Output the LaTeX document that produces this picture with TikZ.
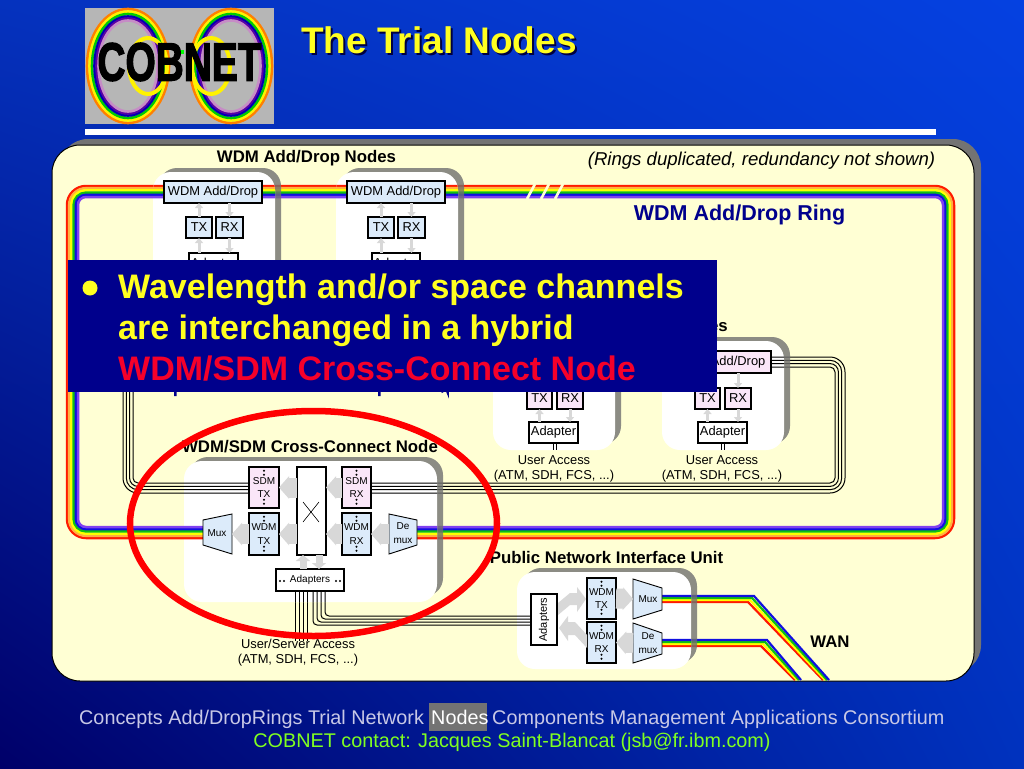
\documentclass[tikz,border=0pt]{standalone}
\usepackage{fontspec}
\setmainfont{Liberation Sans}
\newfontfamily\logofont[BoldFeatures={FakeBold=2.5}]{Liberation Sans}
\usetikzlibrary{arrows.meta,shadings}
\definecolor{panelc}{HTML}{FFFFD4}
\definecolor{bluebox}{HTML}{DCEBFA}
\definecolor{pinkbox}{HTML}{FAE6F8}
\definecolor{arrowc}{HTML}{D8D8D8}
\definecolor{overlayc}{HTML}{00008C}
\definecolor{navy}{HTML}{00008C}
\definecolor{yel}{HTML}{FFFF20}
\definecolor{redc}{HTML}{F5002A}
\definecolor{rred}{HTML}{FF1A00}
\definecolor{rora}{HTML}{FFB040}
\definecolor{ryel}{HTML}{FFFF00}
\definecolor{rgre}{HTML}{10C010}
\definecolor{rblu}{HTML}{1010E0}
\definecolor{rvio}{HTML}{8040F0}
\definecolor{footc}{HTML}{C8C8E6}
\definecolor{greenc}{HTML}{80FF20}
\definecolor{shadowc}{HTML}{707070}
\newcommand\fsz[2]{\fontsize{#1}{#2}\selectfont}
\newcommand\bx[7]{%
  \pgfmathsetlengthmacro\myw{(#4)-(#2)}%
  \pgfmathsetlengthmacro\myh{(#5)-(#3)}%
  \node[#6,minimum width=\myw,minimum height=\myh] (#1) at ({((#2)+(#4))/2},{((#3)+(#5))/2}) {#7};}
\newcommand\twodots[2]{\fill (#1,#2-2.2) circle (1.1) (#1,#2+1.8) circle (1.1);}
\newcommand\hdots[2]{\fill (#1-2,#2) circle (1.1) (#1+2,#2) circle (1.1);}
\newcommand\theWires{%
  \foreach \c/\i in {rred/1,rora/3.2,ryel/5.4,rgre/7.6,rblu/9.8,rvio/12}{%
    \pgfmathsetmacro\myr{20-\i}%
    \draw[color=\c,line width=2.5,rounded corners=\myr pt]
      (203,{539-\i}) -- ({66+\i},{539-\i}) -- ({66+\i},{185+\i}) -- ({955-\i},{185+\i}) -- ({955-\i},{539-\i}) -- (417,{539-\i});}
  \foreach \d in {0,3.3,6.6,10}{%
    \pgfmathsetmacro\myr{15-\d}%
    \draw[fibre,rounded corners=\myr pt]
      (771,{357+\d}) -- ({845-\d},{357+\d}) -- ({845-\d},{493-\d}) -- (371,{493-\d});
    \draw[fibre,rounded corners=\myr pt]
      (249,{493-\d}) -- ({123+\d},{493-\d}) -- ({123+\d},{345+\d}) -- (505,{345+\d});}
  \foreach \x in {553,556,721,724}{\draw[fibre] (\x,443) -- (\x,450);}
  \foreach \x in {295,299,303,307}{\draw[fibre] (\x,591) -- (\x,641);}
  \foreach \x/\y in {313/625,317/622,321/619,325/616}{\draw[fibre,rounded corners=4pt] (\x,591) -- (\x,\y) -- (531,\y);}
  \foreach \c/\y/\a/\b in {rred/602/748/823,ryel/600/750/825,rgre/598/752/827,rblu/596/754/829}{%
    \draw[color=\c,line width=2.2] (662,\y) -- (\a,\y) -- (\b,680);}
  \foreach \c/\y/\a/\b in {rred/646/761/795,ryel/644/763/797,rgre/642/765/799,rblu/640/767/801}{%
    \draw[color=\c,line width=2.2] (662,\y) -- (\a,\y) -- (\b,680);}
}
\newcommand\whitebox[4]{%
  \fill[fill=shadowc,opacity=.8,rounded corners=18pt] (#1+6,#2-4) rectangle (#3+6,#4-6);
  \fill[white,rounded corners=18pt] (#1,#2) rectangle (#3,#4);}
\tikzset{
  x=1pt,y=-1pt,
  fibre/.style={black,line width=1pt},
  boxb/.style={draw=black,line width=1.6pt,fill=bluebox,inner sep=0pt,outer sep=0pt,align=center,font=\fsz{12.9}{14}},
  boxp/.style={boxb,fill=pinkbox},
  boxw/.style={boxb,fill=white},
  smallb/.style={boxb,font=\fsz{10}{13.5}},
  smallp/.style={boxp,font=\fsz{10}{13.5}},
  tiny arrow/.style={draw=arrowc,line width=3pt,-{Triangle[length=5pt,width=8pt]}},
  block arrow/.style={draw=arrowc,line width=20pt,-{Triangle[length=10pt,width=22pt]}},
  mid arrow/.style={draw=arrowc,line width=7pt,-{Triangle[length=6pt,width=14pt]}},
  head/.style={font=\bfseries\fsz{16.8}{18},inner sep=0pt,text=black},
  plain label/.style={font=\fsz{12.9}{15},inner sep=0pt,align=center,text=black},
  trap/.style={draw=black,line width=.9pt,fill=bluebox},
  traplabel/.style={font=\fsz{10}{13.5},inner sep=0pt,align=center},
  over/.style={font=\bfseries\fsz{34}{41},inner sep=0pt,anchor=base west},
  foot/.style={font=\fsz{19.8}{22},inner sep=0pt,anchor=base west,text=footc},
}
\begin{document}
\begin{tikzpicture}
\useasboundingbox (0,0) rectangle (1024,768);
\shade[lower left={rgb,255:red,0;green,0;blue,105},upper left={rgb,255:red,5;green,50;blue,190},
       upper right={rgb,255:red,5;green,65;blue,225},lower right={rgb,255:red,0;green,50;blue,190}]
  (0,0) rectangle (1024,768);
% logo
\fill[gray!50!white!95!black] (85,8) rectangle (274,124);
\begin{scope}
\clip (85,8) rectangle (274,124);
\foreach \cx in {128,231}{
  \foreach \c/\i in {orange/1,yellow/3.5,green!80!black/6,blue!70!black/8.5,violet!70!blue/10.5,violet!45!white/12.5}{
    \draw[color=\c,line width=2.6] (\cx,66) ellipse ({42-\i} and {58-\i});}}
\draw[yellow,line width=4] (148,66) ellipse (19 and 28);
\draw[yellow,line width=4] (211,66) ellipse (19 and 28);
\draw[green,line width=4] (176,52) -- (184,52);
\end{scope}
\node[inner sep=0pt,font=\logofont\bfseries\fsz{54}{54},text=black] (logotext) at (179.5,62) {\scalebox{.72}[1]{COBNET}};
% title
\node[inner sep=0pt,anchor=base west,font=\bfseries\fsz{37}{37},text=black!75!blue] (titleshadow) at (303,56) {The Trial Nodes};
\node[inner sep=0pt,anchor=base west,font=\bfseries\fsz{37}{37},text=yel] (title) at (301,54) {The Trial Nodes};
\fill[white] (85,129) rectangle (936,135);
% panel
\fill[gray!90!black,rounded corners=28pt] (60,139) rectangle (981,673);
\draw[black,line width=1pt,fill=panelc,rounded corners=28pt] (52,145) rectangle (974,681);
\theWires
\whitebox{153}{172}{275}{285}
\whitebox{336}{172}{458}{285}
\whitebox{493}{341}{615}{450}
\whitebox{662}{341}{784}{450}
\whitebox{184}{461}{437}{602}
\whitebox{517}{572}{691}{669}
\begin{scope}
\clip[rounded corners=18pt] (153,172) rectangle (275,285) (336,172) rectangle (458,285)
  (493,341) rectangle (615,450) (662,341) rectangle (784,450)
  (184,461) rectangle (437,602) (517,572) rectangle (691,669);
\theWires
\end{scope}
\foreach \xa/\xb in {527/535,541/549,555/563}{\draw[panelc,line width=2.6] (\xa,199) -- (\xb,184);}
% add/drop nodes
\bx{wa1}{164}{181}{262}{203}{boxb}{WDM Add/Drop}
\bx{tx1}{186}{217}{212}{238}{boxb}{TX}
\bx{rx1}{216}{217}{243}{238}{boxb}{RX}
\bx{ad1}{189}{253}{238}{275}{boxw}{Adapter}
\bx{wa2}{347}{181}{445}{203}{boxb}{WDM Add/Drop}
\bx{tx2}{368}{217}{394}{238}{boxb}{TX}
\bx{rx2}{398}{217}{425}{238}{boxb}{RX}
\bx{ad2}{372}{253}{420}{275}{boxw}{Adapter}
\bx{sa3}{505}{351}{603}{373}{boxp}{}
\bx{tx3}{527}{388}{552}{409}{boxp}{TX}
\bx{rx3}{557}{388}{583}{409}{boxp}{RX}
\bx{ad3}{529}{422}{578}{443}{boxw}{Adapter}
\bx{sa4}{673}{351}{771}{373}{boxp}{SDM Add/Drop}
\bx{tx4}{695}{388}{720}{409}{boxp}{TX}
\bx{rx4}{725}{388}{751}{409}{boxp}{RX}
\bx{ad4}{698}{422}{747}{443}{boxw}{Adapter}
\foreach \n in {1,2}{
  \draw[tiny arrow] (tx\n.north) -- (tx\n.north |- wa\n.south);
  \draw[tiny arrow] (rx\n.north |- wa\n.south) -- (rx\n.north);
  \draw[tiny arrow] (ad\n.north -| tx\n.south) -- (tx\n.south);
  \draw[tiny arrow] (rx\n.south) -- (rx\n.south |- ad\n.north);}
\foreach \n/\m in {3/sa3,4/sa4}{
  \draw[tiny arrow] (tx\n.north) -- (tx\n.north |- \m.south);
  \draw[tiny arrow] (rx\n.north |- \m.south) -- (rx\n.north);
  \draw[tiny arrow] (ad\n.north -| tx\n.south) -- (tx\n.south);
  \draw[tiny arrow] (rx\n.south) -- (rx\n.south |- ad\n.north);}
\node[plain label] (ua3) at (554,468.5) {User Access\\(ATM, SDH, FCS, ...)};
\node[plain label] (ua4) at (722,468.5) {User Access\\(ATM, SDH, FCS, ...)};
% cross-connect node
\coordinate (muxr) at (232,534);
\coordinate (demuxl) at (389,534);
\draw[trap] (203,520) -- (232,514) -- (232,554) -- (203,545) -- cycle;
\draw[trap] (389,514) -- (417,520) -- (417,545) -- (389,554) -- cycle;
\node[traplabel] (muxa) at (217,533) {Mux};
\node[traplabel] (demuxa) at (403,533) {De\\mux};
\bx{xc}{297}{467}{326}{555}{boxw}{}
\bx{stx}{249}{467}{279}{508}{smallp}{SDM\\TX}
\bx{srx}{342}{467}{371}{508}{smallp}{SDM\\RX}
\bx{wtx}{249}{513}{279}{555}{smallb}{WDM\\TX}
\bx{wrx}{342}{513}{371}{555}{smallb}{WDM\\RX}
\bx{adc}{276}{569}{344}{591}{boxw,font=\fsz{10}{12},line width=1.2pt}{Adapters}
\draw[black,line width=.6] (303,502) -- (319,522);
\draw[black,line width=.6] (319,502) -- (303,522);
\foreach \x in {264,356.5}{\twodots{\x}{473}\twodots{\x}{502}\twodots{\x}{519}\twodots{\x}{549}}
\hdots{282}{581}\hdots{338}{581}
\draw[block arrow] (xc.west |- stx) -- (stx.east);
\draw[block arrow] (srx.west) -- (xc.east |- srx);
\draw[block arrow] (xc.west |- wtx) -- (wtx.east);
\draw[block arrow] (wrx.west) -- (xc.east |- wrx);
\draw[block arrow] (wtx.west) -- (muxr);
\draw[block arrow] (demuxl) -- (wrx.east);
\draw[mid arrow] (adc.north -| 303,0) -- (xc.south -| 303,0);
\draw[mid arrow] (xc.south -| 319,0) -- (adc.north -| 319,0);
% public network interface unit
\bx{adp}{531}{594}{557}{645}{boxw}{\rotatebox{90}{\fsz{11}{13}Adapters}}
\bx{ptx}{587}{578}{616}{619}{smallb}{WDM\\TX}
\bx{prx}{587}{622}{616}{663}{smallb}{WDM\\RX}
\coordinate (pmuxl) at (633,599);
\coordinate (pdemuxl) at (633,643);
\draw[trap] (633,579) -- (662,588) -- (662,610) -- (633,619) -- cycle;
\draw[trap] (633,623) -- (662,633) -- (662,654) -- (633,663) -- cycle;
\node[traplabel] (pmuxa) at (648,599) {Mux};
\node[traplabel] (pdemuxa) at (648,643) {De\\mux};
\foreach \y in {584,612,628,657}{\twodots{601.5}{\y}}
\draw[block arrow] (ptx.east) -- (pmuxl);
\draw[block arrow] (pdemuxl) -- (prx.east);
\fill[arrowc] (558,603) -- (570,593) -- (577,593) -- (577,587) -- (586,599) -- (577,612) -- (577,605) -- (570,605) -- (558,615) -- cycle;
\fill[arrowc] (559,628) -- (568,616) -- (568,622) -- (575,622) -- (587,635) -- (587,648) -- (575,635) -- (568,635) -- (568,641) -- cycle;
% headings
\node[head] (h1) at (306.5,158) {WDM Add/Drop Nodes};
\node[inner sep=0pt,font=\itshape\fsz{18.6}{20},text=black] (h2) at (761.5,161) {(Rings duplicated, redundancy not shown)};
\node[inner sep=0pt,font=\bfseries\fsz{21.5}{24},text=navy] (h3) at (739.5,215) {WDM Add/Drop Ring};
\node[head,anchor=east] (h4) at (728,327) {Add/Drop Nodes};
\node[head] (h5) at (310,447) {WDM/SDM Cross-Connect Node};
\node[head] (h6) at (606.5,557) {Public Network Interface Unit};
\node[head] (h7) at (830,642) {WAN};
\node[plain label] (ua5) at (298,652.5) {User/Server Access\\(ATM, SDH, FCS, ...)};
\fill[navy] (174,390) rectangle (176.5,396) (378,390) rectangle (380.5,396);
\draw[navy,line width=1.8] (448,390) -- (448,394) arc (0:-150:3.5);
% overlay
\fill[overlayc] (68,260) rectangle (717,392);
\fill[yel] (90,288) circle (7.5);
\node[over,text=yel] (o1) at (118,298) {Wavelength and/or space channels};
\node[over,text=yel] (o2) at (118,339) {are interchanged in a hybrid};
\node[over,text=redc] (o3) at (118,380) {WDM/SDM Cross-Connect Node};
% ellipse
\draw[color=red,line width=6.5] (313.5,523.5) ellipse (183.5 and 112.5);
% footer
\fill[gray!90!black] (429,703) rectangle (487,731);
\node[foot] (f1) at (79,724) {Concepts Add/DropRings Trial Network};
\node[foot,text=white] (f2) at (431,724) {Nodes};
\node[foot] (f3) at (492,724) {Components Management Applications Consortium};
\node[inner sep=0pt,font=\fsz{19.8}{22},text=greenc] (f4) at (512,742) {COBNET contact: Jacques Saint-Blancat (jsb@fr.ibm.com)};
\end{tikzpicture}
\end{document}
